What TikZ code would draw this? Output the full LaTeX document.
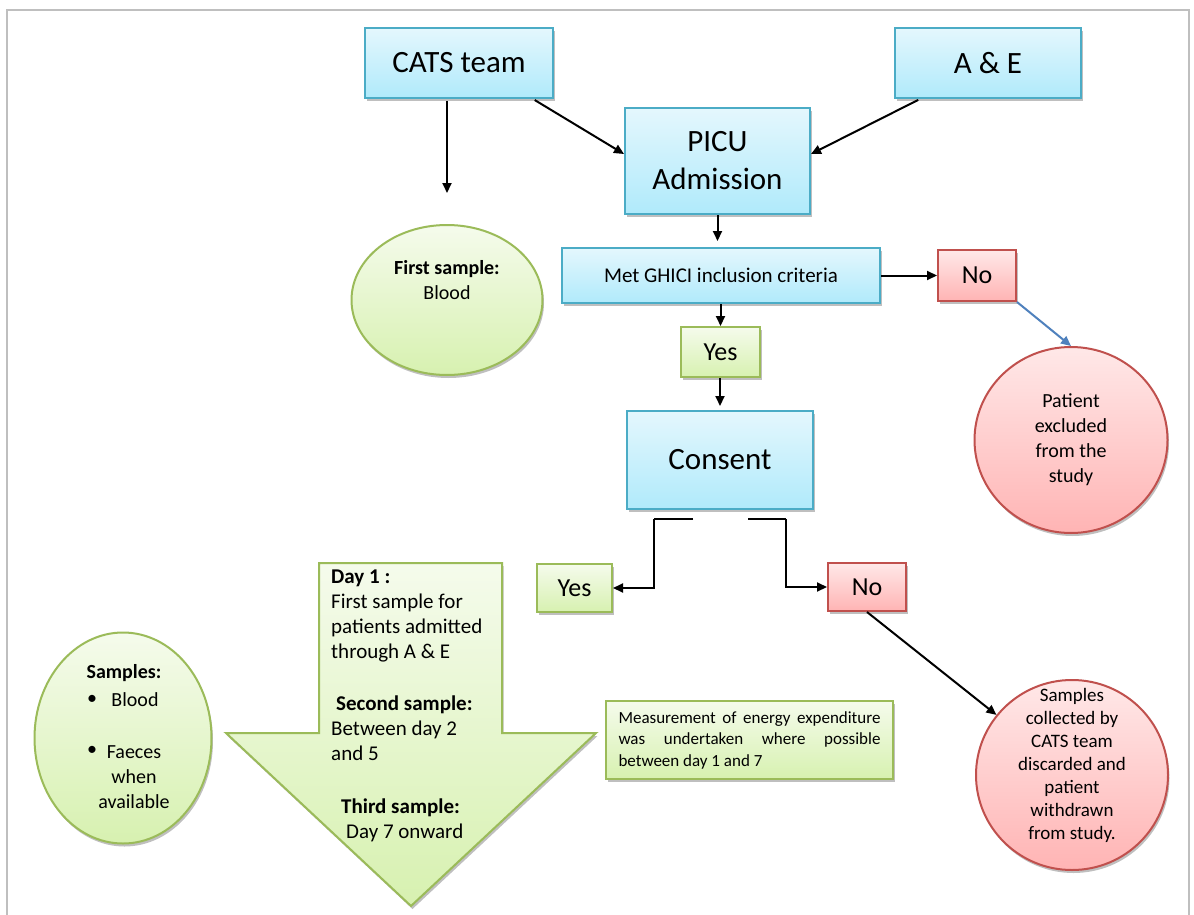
\documentclass[tikz,border=0pt]{standalone}
\usepackage{fontspec}
\setmainfont{Carlito}
\usetikzlibrary{shapes.geometric,shadows,calc,arrows.meta}
\definecolor{aquab}{RGB}{75,172,198}
\definecolor{blueT}{RGB}{228,247,253}
\definecolor{blueB}{RGB}{176,234,251}
\definecolor{greenb}{RGB}{155,187,89}
\definecolor{greenT}{RGB}{245,251,236}
\definecolor{greenB}{RGB}{215,241,176}
\definecolor{redb}{RGB}{192,80,77}
\definecolor{redT}{RGB}{255,232,232}
\definecolor{redB}{RGB}{255,180,180}
\definecolor{framegray}{RGB}{191,191,191}
\definecolor{blueline}{RGB}{79,129,189}
\tikzset{
  shadowed/.style={drop shadow={shadow xshift=1.5pt,shadow yshift=-3pt,opacity=0.25,fill=black}},
  bluebox/.style={rectangle, draw=aquab, line width=2pt, top color=blueT, bottom color=blueB, shadowed, align=center, inner sep=0pt},
  greenbox/.style={rectangle, draw=greenb, line width=2pt, top color=greenT, bottom color=greenB, shadowed, align=center, inner sep=0pt},
  redbox/.style={rectangle, draw=redb, line width=2pt, top color=redT, bottom color=redB, shadowed, align=center, inner sep=0pt},
  greenell/.style={ellipse, draw=greenb, line width=2pt, top color=greenT, bottom color=greenB, shadowed, inner sep=0pt},
  redell/.style={ellipse, draw=redb, line width=2pt, top color=redT, bottom color=redB, shadowed, inner sep=0pt, align=center},
  conn/.style={-{Triangle[length=10pt,width=9pt]}, line width=2pt, black},
  blueconn/.style={-{Triangle[length=10pt,width=9pt]}, line width=2pt, blueline},
  bigtxt/.style={font=\fontsize{31}{38}\selectfont},
  midtxt/.style={font=\fontsize{26}{31}\selectfont},
  smalltxt/.style={font=\fontsize{20}{25}\selectfont},
}
\begin{document}
\begin{tikzpicture}[x=1pt,y=-1pt]
\useasboundingbox (0,0) rectangle (1194,915);
\fill[white] (0,0) rectangle (1194,915);
\draw[framegray, line width=2.5pt] (7,915) -- (7,10) -- (1189,10) -- (1189,915);

% top boxes
\node[bluebox, bigtxt, minimum width=188pt, minimum height=70pt] (cats) at (459,63) {CATS team};
\node[bluebox, bigtxt, minimum width=186pt, minimum height=70pt] (ae) at (988,63) {A \& E};
\node[bluebox, bigtxt, minimum width=185pt, minimum height=106pt] (picu) at (717.5,161) {PICU\\Admission};
\node[bluebox, font=\fontsize{21}{25}\selectfont, minimum width=318pt, minimum height=55pt] (met) at (721,275.5) {Met GHICI inclusion criteria};
\node[redbox, midtxt, minimum width=78pt, minimum height=51pt] (no1) at (977,275.5) {No};
\node[greenbox, midtxt, minimum width=79pt, minimum height=50pt] (yes1) at (720.5,352) {Yes};
\node[bluebox, bigtxt, minimum width=186pt, minimum height=98pt] (consent) at (720,460) {Consent};
\node[greenbox, midtxt, minimum width=75pt, minimum height=48pt] (yes2) at (574.5,588) {Yes};
\node[redbox, midtxt, minimum width=78pt, minimum height=48pt] (no2) at (867,587) {No};

% ellipses
\node[greenell, minimum width=191pt, minimum height=150pt] (first) at (447,300) {};
\node[smalltxt, align=center] (firsttxt) at (447,280) {\textbf{First sample:}\\Blood};
\node[redell, smalltxt, minimum width=193pt, minimum height=186pt] (excl) at (1071,440) {Patient\\excluded\\from the\\study};
\node[greenell, minimum width=177pt, minimum height=211pt] (samp) at (123,738) {};
\node[smalltxt] (samphead) at (124,673) {\textbf{Samples:}};
\node[smalltxt] (bul1) at (92,700) {\textbullet};
\node[smalltxt] (bul2) at (92,751) {\textbullet};
\node[smalltxt] (blood) at (135,700) {Blood};
\node[smalltxt, align=center, anchor=north] (faeces) at (134,742) {Faeces\\when\\available};
\node[redell, minimum width=192pt, minimum height=190pt] (coll) at (1072,775) {};
\node[align=center, font=\fontsize{19}{23}\selectfont] (colltxt) at (1072,765) {Samples\\collected by\\CATS team\\discarded and\\patient\\withdrawn\\from study.};

% measurement box
\node[greenbox, font=\fontsize{17}{21.5}\selectfont, minimum width=287pt, minimum height=78pt, align=left] (meas) at (749.5,740)
 {\makebox[262pt][s]{Measurement of energy expenditure}\\\makebox[262pt][s]{was undertaken where possible}\\between day 1 and 7};

% big down arrow
\draw[draw=greenb, line width=2pt, top color=greenT, bottom color=greenB, shadowed, line join=miter]
  (319,563) -- (502,563) -- (502,733) -- (596,733) -- (411,906) -- (226,733) -- (319,733) -- cycle;
\node[anchor=north west, inner sep=0pt, align=left, font=\fontsize{21}{25}\selectfont] (arrtxt) at (331,570)
 {\textbf{Day 1 :}\\First sample for\\patients admitted\\through A \& E\\[27pt]
  \hspace*{5pt}\textbf{Second sample:}\\Between day 2\\and 5\\[28pt]
  \hspace*{10pt}\textbf{Third sample:}\\\hspace*{15pt}Day 7 onward};

% connectors
\coordinate (c1) at (447,193);
\draw[conn, shorten <=2pt] (cats.south -| c1) -- (c1);
\draw[conn, shorten <=2pt] ([xshift=74pt]cats.south) -- ([yshift=7pt]picu.west);
\draw[conn, shorten <=2pt] ([xshift=-68pt]ae.south) -- ([yshift=7pt]picu.east);
\draw[conn, shorten >=6pt] (picu.south) -- (picu.south |- met.north);
\draw[conn] (met.east) -- (no1.west);
\draw[conn] (yes1.north |- met.south) -- (yes1.north);
\draw[conn, shorten >=4pt] (consent.north |- yes1.south) -- (consent.north);
\draw[blueconn] (no1.south east) -- (excl.north);
\coordinate (cl) at (693,519);
\coordinate (cr) at (748,519);
\draw[line width=2pt] (cl) -- ++(-39,0) coordinate (clb);
\draw[conn] (clb) |- (yes2.east);
\draw[line width=2pt] (cr) -- ++(38,0) coordinate (crb);
\draw[conn] (crb) |- (no2.west);
\draw[conn] (no2.south) -- (coll);
\end{tikzpicture}
\end{document}
